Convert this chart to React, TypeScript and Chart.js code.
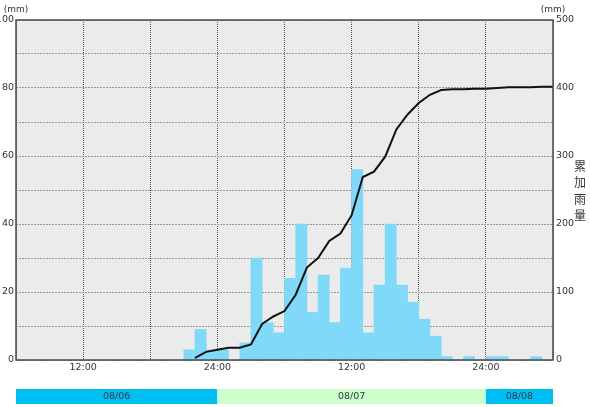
import React, { useEffect, useRef } from 'react';
import { Chart, registerables } from 'chart.js';

Chart.register(...registerables);

// Hourly rainfall (mm), hour 0 = 08/06 06:00 ... hour 47 = 08/08 05:00
const rainfall = [
  0, 0, 0, 0, 0, 0, 0, 0, 0, 0, 0, 0, 0, 0, 0,
  3, 9, 3, 3, 0, 5, 30, 11, 8,
  24, 40, 14, 25, 11, 27, 56, 8, 22, 40, 22, 17,
  12, 7, 1, 0, 1, 0, 1, 1, 0, 0, 1, 0,
];

// Cumulative rainfall (mm) at hour boundaries, starting at hour 16
const cumulativeStartHour = 16;
const cumulative = [
  3, 12, 15, 18, 18, 23, 53, 64, 72, 96, 136, 150, 175, 186, 213, 269, 277,
  299, 339, 361, 378, 390, 397, 398, 398, 399, 399, 400, 401, 401, 401, 402, 402,
];

const tickHours = [6, 18, 30, 42];
const tickTexts = ['12:00', '24:00', '12:00', '24:00'];

const dateLabels = ['08/06', '08/07', '08/08'];
const dateStarts = [0, 18, 42];
const dateEnds = [18, 42, 48];
const dateColors = ['#00bff2', '#ccffcc', '#00bff2'];

const leftUnit = '(mm)';
const rightUnit = '(mm)';
const rightTitle = '累加雨量';

const FONT = 'DejaVu Sans, Verdana, sans-serif';
const TEXT = '#333333';

const decorPlugin = {
  id: 'decor',
  beforeDraw(chart: any) {
    const { ctx, chartArea } = chart;
    ctx.save();
    ctx.fillStyle = '#ebebeb';
    ctx.fillRect(chartArea.left, chartArea.top, chartArea.right - chartArea.left, chartArea.bottom - chartArea.top);
    ctx.restore();
  },
  afterDraw(chart: any) {
    const { ctx, chartArea, scales } = chart;
    const xs = scales.x;
    ctx.save();
    ctx.strokeStyle = '#4a4a4a';
    ctx.lineWidth = 1.5;
    ctx.strokeRect(chartArea.left, chartArea.top, chartArea.right - chartArea.left, chartArea.bottom - chartArea.top);
    ctx.fillStyle = TEXT;
    ctx.font = `9px ${FONT}`;
    ctx.textAlign = 'center';
    ctx.textBaseline = 'middle';
    ctx.fillText(leftUnit, chartArea.left, chartArea.top - 10);
    ctx.fillText(rightUnit, chartArea.right, chartArea.top - 10);
    ctx.font = `12px "Noto Sans CJK JP", sans-serif`;
    const chars = Array.from(rightTitle);
    const cx = chartArea.right + 27;
    const cy0 = chartArea.top + 146;
    chars.forEach((c, i) => ctx.fillText(c, cx, cy0 + i * 16.5));
    const y0 = chartArea.bottom + 29;
    const h = 15;
    ctx.font = `9.5px ${FONT}`;
    dateLabels.forEach((lab, i) => {
      const a = xs.getPixelForValue(dateStarts[i]);
      const b = xs.getPixelForValue(dateEnds[i]);
      ctx.fillStyle = dateColors[i];
      ctx.fillRect(a, y0, b - a, h);
      ctx.fillStyle = '#2b3a44';
      ctx.fillText(lab, (a + b) / 2, y0 + h / 2 + 0.5);
    });
    ctx.restore();
  },
};

export default function App() {
  const ref = useRef<HTMLCanvasElement | null>(null);
  useEffect(() => {
    if (!ref.current) return;
    const barData = rainfall.map((v, i) => ({ x: i + 0.5, y: v }));
    const lineData = cumulative.map((v, i) => ({ x: cumulativeStartHour + i, y: v }));
    const chart = new Chart(ref.current, {
      type: 'bar',
      data: {
        datasets: [
          {
            type: 'line',
            data: lineData,
            yAxisID: 'y2',
            borderColor: '#111111',
            borderWidth: 2,
            pointRadius: 0,
            tension: 0,
            fill: false,
          } as any,
          {
            type: 'bar',
            data: barData,
            yAxisID: 'y',
            backgroundColor: '#80d9f9',
            borderWidth: 0,
            barPercentage: 1,
            categoryPercentage: 1,
          } as any,
        ],
      },
      options: {
        animation: false,
        responsive: false,
        layout: { padding: { top: 20, left: 0, right: 0, bottom: 0 } },
        plugins: { legend: { display: false }, tooltip: { enabled: false } },
        scales: {
          x: {
            type: 'linear',
            offset: false,
            min: 0,
            max: 48,
            ticks: {
              stepSize: 6,
              autoSkip: false,
              maxRotation: 0,
              padding: 2,
              color: TEXT,
              font: { family: FONT, size: 9.5 },
              callback: (v: any) => {
                const k = tickHours.indexOf(Number(v));
                return k >= 0 ? tickTexts[k] : '';
              },
            },
            grid: { color: '#555555', lineWidth: 1, drawTicks: false, offset: false },
            border: { display: false, dash: [1, 1] },
            afterFit: (s: any) => { s.height = 47; },
          },
          y: {
            position: 'left',
            min: 0,
            max: 100,
            ticks: {
              stepSize: 10,
              padding: 2,
              color: TEXT,
              font: { family: FONT, size: 9.5 },
              callback: (v: any) => (Number(v) % 20 === 0 ? String(v) : ''),
            },
            grid: { color: '#999999', lineWidth: 1, drawTicks: false },
            border: { display: false, dash: [2, 1] },
            afterFit: (s: any) => { s.width = 16; },
          },
          y2: {
            position: 'right',
            min: 0,
            max: 500,
            ticks: {
              stepSize: 100,
              padding: 3,
              color: TEXT,
              font: { family: FONT, size: 9.5 },
            },
            grid: { drawOnChartArea: false, drawTicks: false },
            border: { display: false },
            afterFit: (s: any) => { s.width = 37; },
          },
        },
      },
      plugins: [decorPlugin],
    });
    return () => chart.destroy();
  }, []);
  return (
    <div style={{ position: 'absolute', left: 0, top: 0, width: 590, height: 407 }}>
      <canvas ref={ref} width={590} height={407} style={{ width: 590, height: 407 }} />
    </div>
  );
}
